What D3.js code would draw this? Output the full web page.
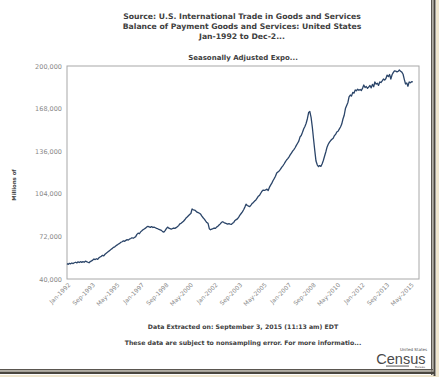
<!DOCTYPE html>
<html>
<head>
<meta charset="utf-8">
<script src="https://cdn.jsdelivr.net/npm/d3@7"></script>
<style>
  body { margin: 0; background: #fff; }
  svg { display: block; font-family: "DejaVu Sans", Verdana, sans-serif; }
</style>
</head>
<body>
<svg id="chart" width="439" height="377"></svg>
<script>
// titles
const titleLines = [
    "Source: U.S. International Trade in Goods and Services",
    "Balance of Payment Goods and Services: United States",
    "Jan-1992 to Dec-2..."
]
const subTitle = "Seasonally Adjusted Expo..."
const yTitle = "Millions of"
const footLines = [
    "Data Extracted on: September 3, 2015 (11:13 am) EDT",
    "These data are subject to nonsampling error. For more informatio..."
]

// axes
const yTicks = [40000, 72000, 104000, 136000, 168000, 200000]
const xTickLabels = ["Jan-1992", "Sep-1993", "May-1995", "Jan-1997", "Sep-1998", "May-2000",
    "Jan-2002", "Sep-2003", "May-2005", "Jan-2007", "Sep-2008", "May-2010",
    "Jan-2012", "Sep-2013", "May-2015"]
const xDomain = ["Jan-1992", "Dec-2015"]

// monthly exports, thousands of millions, one row per year starting Jan-1992
const firstMonth = "Jan-1992"
const exportValues = [
    51.5, 51.0, 51.8, 51.4, 52.0, 51.6, 52.2, 52.6, 52.1, 52.9, 52.4, 53.0,
    52.5, 53.0, 52.6, 53.4, 53.0, 52.6, 52.2, 53.1, 53.6, 54.2, 55.0, 54.6,
    55.2, 54.8, 55.9, 56.5, 57.0, 57.8, 57.4, 58.6, 59.4, 60.1, 60.8, 61.5,
    62.3, 63.0, 63.8, 64.2, 65.0, 65.6, 66.3, 66.8, 67.6, 68.0, 68.7, 68.3,
    69.0, 69.6, 69.2, 70.0, 70.4, 71.0, 70.6, 71.2, 71.8, 73.5, 74.5, 74.0,
    75.4, 76.2, 77.0, 77.6, 78.2, 79.0, 79.6, 79.2, 78.8, 79.4, 78.7, 78.9,
    78.5, 78.0, 77.8, 77.2, 76.9, 76.5, 75.6, 75.2, 76.3, 77.8, 79.0, 78.2,
    77.8, 77.4, 77.9, 78.3, 78.0, 78.6, 79.2, 80.1, 81.4, 81.8, 82.6, 83.4,
    84.5, 85.8, 86.6, 87.5, 88.4, 89.2, 92.6, 92.0, 91.8, 91.0, 90.2, 89.8,
    89.4, 88.6, 87.2, 86.0, 85.0, 83.6, 82.4, 81.8, 77.8, 77.0, 77.4, 77.8,
    78.3, 78.0, 79.0, 79.6, 80.5, 81.4, 82.6, 83.0, 82.4, 82.0, 81.6, 81.2,
    81.6, 81.2, 81.0, 81.8, 82.5, 84.0, 84.6, 85.2, 86.5, 88.0, 89.2, 90.4,
    92.0, 94.0, 96.2, 95.2, 94.8, 94.4, 95.5, 96.8, 97.5, 98.6, 99.4, 100.8,
    102.2, 103.0, 104.4, 106.0, 106.8, 106.5, 106.9, 107.5, 106.4, 108.8, 110.5, 112.0,
    114.0, 115.6, 117.2, 119.6, 120.4, 121.2, 122.4, 123.8, 125.0, 126.4, 128.0, 129.4,
    130.4, 131.8, 133.2, 134.6, 136.0, 137.2, 138.6, 140.4, 142.0, 143.6, 146.7, 147.8,
    150.2, 152.8, 154.6, 157.0, 160.4, 165.0, 165.8, 161.4, 154.0, 145.2, 136.4, 128.6,
    125.8, 124.4, 125.2, 124.6, 126.4, 129.0, 132.2, 135.4, 139.0, 141.2, 142.8, 144.0,
    145.0, 145.8, 147.6, 148.6, 150.4, 151.0, 152.6, 154.2, 156.4, 160.2, 163.0, 168.0,
    170.4, 172.6, 176.8, 178.2, 177.4, 180.2, 179.6, 182.0, 181.4, 182.6, 181.8, 182.4,
    181.6, 183.4, 185.7, 183.8, 184.6, 183.2, 184.2, 185.4, 183.6, 186.2, 184.4, 188.0,
    186.4, 187.0, 185.4, 188.0, 187.6, 188.8, 190.2, 189.4, 190.6, 193.2, 192.0, 193.6,
    190.2, 193.4, 195.0, 196.4, 196.2, 195.6, 196.0, 197.0, 196.0, 195.4, 193.8, 190.0,
    186.5, 187.2, 184.8, 188.0, 187.4, 188.2, 188.0
]

const parseMonth = d3.timeParse("%b-%Y")
const start = parseMonth(firstMonth)
const series = exportValues.map((v, i) => ({ date: d3.timeMonth.offset(start, i), value: v * 1000 }))

const svg = d3.select("#chart")
const plot = { left: 67, right: 419, top: 66, bottom: 279 }

let x = d3.scaleTime()
    .domain(xDomain.map(parseMonth))
    .range([plot.left, plot.right])
let y = d3.scaleLinear()
    .domain([40000, 200000])
    .range([plot.bottom, plot.top])

// photo frame shadow (right and bottom)
svg.append("rect").attr("x", 436).attr("y", 0).attr("width", 3).attr("height", 377).attr("fill", "#efe6cf")
svg.append("rect").attr("x", 0).attr("y", 375).attr("width", 439).attr("height", 2).attr("fill", "#efe6cf")
svg.append("rect").attr("x", 431).attr("y", 0).attr("width", 1.5).attr("height", 375).attr("fill", "#5a5650")
svg.append("rect").attr("x", 432.5).attr("y", 0).attr("width", 1).attr("height", 374).attr("fill", "#b8b2a4")
svg.append("rect").attr("x", 433.5).attr("y", 0).attr("width", 2).attr("height", 376).attr("fill", "#4a463f")
svg.append("rect").attr("x", 0).attr("y", 369).attr("width", 433).attr("height", 1.5).attr("fill", "#5a5650")
svg.append("rect").attr("x", 0).attr("y", 370.5).attr("width", 433).attr("height", 1.2).attr("fill", "#b8b2a4")
svg.append("rect").attr("x", 0).attr("y", 371.7).attr("width", 435).attr("height", 2.3).attr("fill", "#4a463f")

// titles
svg.append("g").selectAll("text")
    .data(titleLines)
    .enter().append("text")
    .attr("x", 242)
    .attr("y", (d, i) => 19 + i * 10)
    .attr("text-anchor", "middle")
    .attr("font-size", "7.7px")
    .attr("font-weight", "bold")
    .attr("fill", "#404040")
    .text(d => d)

svg.append("text")
    .attr("x", 243).attr("y", 60)
    .attr("text-anchor", "middle")
    .attr("font-size", "7px")
    .attr("font-weight", "bold")
    .attr("fill", "#404040")
    .text(subTitle)

// y axis
let yAxis = svg.append("g")
    .attr("transform", "translate(" + (plot.left - 2) + ",0)")
    .call(d3.axisLeft(y).tickValues(yTicks).tickFormat(d3.format(",")).tickSize(0))
yAxis.select(".domain").remove()
yAxis.selectAll("text")
    .attr("font-size", "6.5px")
    .attr("fill", "#888")
    .attr("font-family", "DejaVu Sans, sans-serif")

svg.append("text")
    .attr("transform", "translate(16," + 185 + ") rotate(-90)")
    .attr("text-anchor", "middle")
    .attr("font-size", "5.4px")
    .attr("font-weight", "bold")
    .attr("fill", "#444")
    .text(yTitle)

// x axis
let xAxis = svg.append("g")
    .attr("transform", "translate(0," + (plot.bottom + 3) + ")")
    .call(d3.axisBottom(x).tickValues(xTickLabels.map(parseMonth)).tickFormat(d3.timeFormat("%b-%Y")).tickSize(0))
xAxis.select(".domain").remove()
xAxis.selectAll("text")
    .attr("font-size", "6px")
    .attr("fill", "#888")
    .attr("font-family", "DejaVu Sans, sans-serif")
    .attr("text-anchor", "end")
    .attr("dy", "0.3em")
    .attr("transform", "rotate(-45)")

// plot border
svg.append("rect")
    .attr("x", plot.left).attr("y", plot.top)
    .attr("width", plot.right - plot.left).attr("height", plot.bottom - plot.top)
    .attr("fill", "none")
    .attr("stroke", "#a8a8a8")
    .attr("stroke-width", 1)

// line
let line = d3.line()
    .x(d => x(d.date))
    .y(d => y(d.value))
svg.append("path")
    .datum(series)
    .attr("d", line)
    .attr("fill", "none")
    .attr("stroke", "#2b4569")
    .attr("stroke-width", 1.3)
    .attr("stroke-linejoin", "round")

// footer
svg.append("g").selectAll("text")
    .data(footLines)
    .enter().append("text")
    .attr("x", 243)
    .attr("y", (d, i) => 329 + i * 16)
    .attr("text-anchor", "middle")
    .attr("font-size", "6.2px")
    .attr("font-weight", "bold")
    .attr("fill", "#404040")
    .text(d => d)

// census logo
let logo = svg.append("g").attr("fill", "#4a4a4a")
logo.append("text").attr("x", 427).attr("y", 350.5).attr("text-anchor", "end")
    .attr("font-size", "4px").text("United States")
logo.append("text").attr("x", 425.5).attr("y", 363.5).attr("text-anchor", "end")
    .attr("font-size", "14.5px").attr("font-family", "Liberation Sans Narrow, Liberation Sans, sans-serif")
    .text("Census")
logo.append("rect").attr("x", 386).attr("y", 365.6).attr("width", 23).attr("height", 0.9)
logo.append("text").attr("x", 425).attr("y", 368.2).attr("text-anchor", "end")
    .attr("font-size", "2.8px").text("Bureau")
</script>
</body>
</html>
